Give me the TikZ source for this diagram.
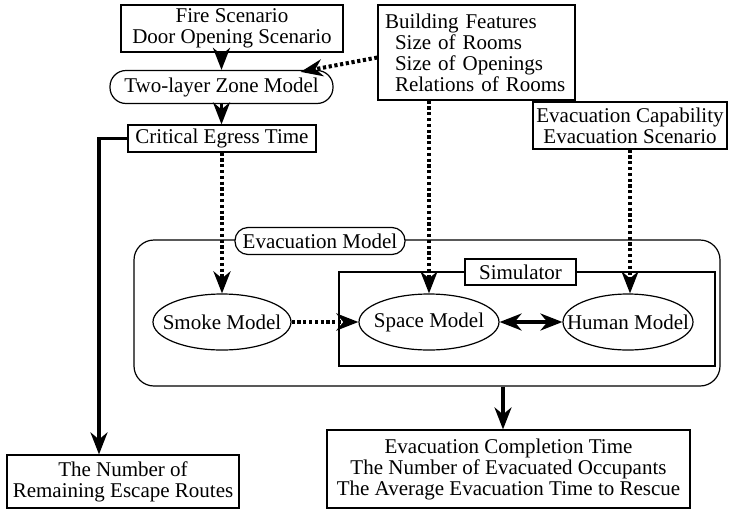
\documentclass[tikz,border=0pt]{standalone}
\usepackage{fontspec}
\setmainfont{Liberation Serif}
\usetikzlibrary{arrows.meta,shapes.geometric}
\begin{document}
\begin{tikzpicture}[x=1pt,y=-1pt,
  txt/.style={font=\fontsize{21}{21}\selectfont},
  box/.style={draw,line width=1.2pt,inner sep=0pt,txt,align=center},
  pill/.style={box,rounded corners=15pt},
  oval/.style={draw,line width=1.2pt,ellipse,inner sep=0pt},
  dotarr/.style={line width=4pt,dash pattern=on 3.2pt off 2.6pt,-{Stealth[length=22pt,width=17pt,inset=7pt]}},
  solarr/.style={line width=3.2pt,-{Stealth[length=22pt,width=17pt,inset=7pt]}},
  dblarr/.style={line width=3.2pt,{Stealth[length=22pt,width=17pt,inset=7pt]}-{Stealth[length=22pt,width=17pt,inset=7pt]}}
]
\useasboundingbox[fill=white] (0,0) rectangle (730,509);

\node[box,minimum width=222pt,minimum height=47pt] (fire) at (232,28.5) {Fire Scenario\\Door Opening Scenario};
\node[box,text width=183pt,inner xsep=7pt,align=left,minimum height=95pt] (bldg) at (476.5,52.5)
  {Building Features\\\hspace*{10pt}Size of Rooms\\\hspace*{10pt}Size of Openings\\\hspace*{10pt}Relations of Rooms};
\node[pill,minimum width=223pt,minimum height=33pt,rounded corners=16pt] (zone) at (221.5,87) {Two-layer Zone Model};
\node[box,minimum width=188pt,minimum height=27pt] (crit) at (222,138.5) {Critical Egress Time};
\node[box,minimum width=194pt,minimum height=47pt] (evcap) at (630,125.5) {Evacuation Capability\\Evacuation Scenario};

\node[draw,line width=1.2pt,rounded corners=20pt,minimum width=586pt,minimum height=146pt,inner sep=0pt] (evmodel) at (427,313) {};
\node[pill,fill=white,minimum width=170pt,minimum height=27pt,rounded corners=13pt] (evlabel) at (320,241) {Evacuation Model};
\node[draw,line width=1.2pt,minimum width=376pt,minimum height=94pt,inner sep=0pt] (sim) at (527,319) {};
\node[box,fill=white,minimum width=111pt,minimum height=26pt] (simlabel) at (520.5,272) {Simulator};

\node[oval,minimum width=138pt,minimum height=56pt,label={[txt]center:Smoke Model}] (smoke) at (222,322) {};
\node[oval,minimum width=140pt,minimum height=56pt,label={[txt]center:Space Model}] (space) at (429,322) {};
\node[oval,minimum width=130pt,minimum height=56pt,label={[txt]center:Human Model}] (human) at (628,322) {};

\node[box,minimum width=232pt,minimum height=53pt] (left) at (123,481.5) {The Number of\\Remaining Escape Routes};
\node[box,minimum width=363pt,minimum height=78pt] (bot) at (508.5,469) {Evacuation Completion Time\\The Number of Evacuated Occupants\\The Average Evacuation Time to Rescue};

\draw[dotarr] (fire.south -| zone.north) -- (zone.north);
\draw[dotarr] ([yshift=-5pt]bldg.west) -- ([xshift=-33pt,yshift=-2pt]zone.north east);
\draw[solarr] (zone.south) -- (zone.south |- crit.north);
\draw[solarr] (crit.west) -| ([xshift=-24pt]left.north);
\draw[dotarr] (crit.south) -- (smoke.north);
\draw[dotarr] (bldg.south -| space.north) -- (space.north);
\draw[dotarr] (evcap.south) -- (evcap.south |- human.north);
\draw[dotarr] (smoke.east) -- (space.west);
\draw[dblarr] (space.east) -- (human.west);
\draw[solarr] ([xshift=-5.5pt]bot.north |- evmodel.south) -- ([xshift=-5.5pt]bot.north);
\end{tikzpicture}
\end{document}
